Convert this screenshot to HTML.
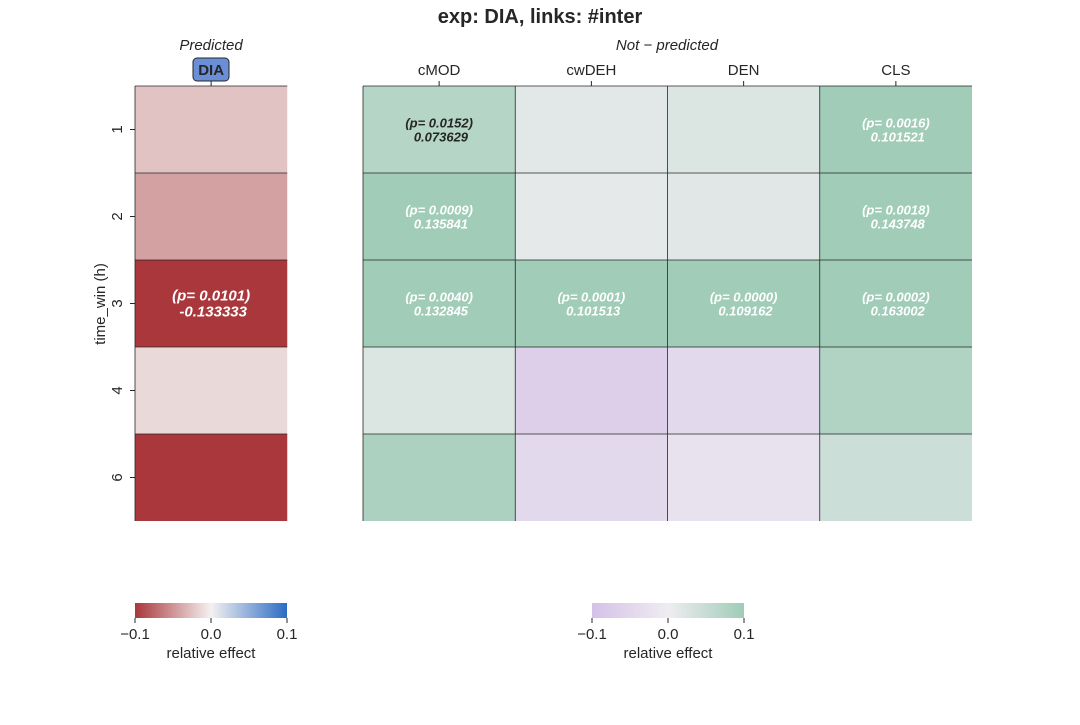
<!DOCTYPE html>
<html><head><meta charset="utf-8"><style>
body{margin:0;background:#fff;font-family:"Liberation Sans",sans-serif}
svg text{font-family:"Liberation Sans",sans-serif}
</style></head><body>
<svg id="c" width="1080" height="720">
<defs>
<linearGradient id="g1"><stop offset="0" stop-color="#a9373b"/><stop offset="0.5" stop-color="#f4f1f1"/><stop offset="1" stop-color="#2b6cc4"/></linearGradient>
<linearGradient id="g2"><stop offset="0" stop-color="#d5c1e8"/><stop offset="0.5" stop-color="#eeedf0"/><stop offset="1" stop-color="#a0ccb8"/></linearGradient>
</defs>
<text x="540" y="23" text-anchor="middle" font-size="20" font-weight="bold" fill="#262626">exp: DIA, links: #inter</text>
<text x="211" y="50" text-anchor="middle" font-size="15" font-style="italic" fill="#262626">Predicted</text>
<text x="667" y="50" text-anchor="middle" font-size="15" font-style="italic" fill="#262626">Not − predicted</text>
<text transform="translate(105,304) rotate(-90)" text-anchor="middle" font-size="15" fill="#262626">time_win (h)</text>
<g id="L"></g><g id="R"></g>
<rect x="135" y="603" width="152" height="15" fill="url(#g1)"/>
<rect x="592" y="603" width="152" height="15" fill="url(#g2)"/>
<g id="CB"></g>
</svg>
<script>
const rows=["1","2","3","4","6"];
const predCols=["DIA"];
const predVals=[-0.025,-0.043,-0.133333,-0.013,-0.12];
const predP=[null,null,"0.0101",null,null];
const npCols=["cMOD","cwDEH","DEN","CLS"];
const npVals=[[0.073629,0.015,0.025,0.101521],[0.135841,0.012,0.018,0.143748],[0.132845,0.101513,0.109162,0.163002],[0.025,-0.07,-0.045,0.08],[0.085,-0.045,-0.025,0.045]];
const npP=[["0.0152",null,null,"0.0016"],["0.0009",null,null,"0.0018"],["0.0040","0.0001","0.0000","0.0002"],[null,null,null,null],[null,null,null,null]];
const cbTicks=["−0.1","0.0","0.1"];
const NS="http://www.w3.org/2000/svg";
function mk(t,a,p){const e=document.createElementNS(NS,t);for(const k in a)e.setAttribute(k,a[k]);p.appendChild(e);return e;}
function hex(h){return[1,3,5].map(i=>parseInt(h.substr(i,2),16));}
function cmap(v,lo,mid,hi){let t=Math.max(-1,Math.min(1,v/0.1));const a=hex(mid),b=hex(t<0?lo:hi);t=Math.abs(t);return"rgb("+a.map((x,i)=>Math.round(x+(b[i]-x)*t)).join(",")+")";}
const gridTop=86,rh=87,cw=152.25;
function yS(i){return gridTop+i*rh;}
function heat(g,x0,cols,vals,ps,lo,mid,hi,big){
 cols.forEach((c,j)=>{const cx=x0+j*cw+cw/2;
  const t=mk("text",{x:cx,y:75,"text-anchor":"middle","font-size":15,fill:"#262626"},g);t.textContent=c;
  
  
  mk("line",{x1:cx,x2:cx,y1:gridTop,y2:gridTop-5,stroke:"#262626"},g);});
 rows.forEach((r,i)=>{cols.forEach((c,j)=>{const v=vals[i][j];
  const re=mk("rect",{x:x0+j*cw,y:yS(i),width:cw,height:rh,fill:cmap(v,lo,mid,hi)},g);
  
  
 });});
 // grid lines (interior + top)
 for(let i=0;i<rows.length;i++)mk("line",{x1:x0,x2:x0+cols.length*cw,y1:yS(i),y2:yS(i),stroke:"#262626","stroke-width":0.8},g);
 for(let j=0;j<cols.length;j++)mk("line",{x1:x0+j*cw,x2:x0+j*cw,y1:gridTop,y2:yS(rows.length),stroke:"#262626","stroke-width":0.8},g);
 rows.forEach((r,i)=>{cols.forEach((c,j)=>{const v=vals[i][j];const p=ps[i][j];
  if(p){const fs=big?15:13;const col=Math.abs(v)>0.08?"#fff":"#262626";
   const tx=mk("text",{x:x0+j*cw+cw/2,y:yS(i)+rh/2-(big?3:2),"text-anchor":"middle","font-size":fs,"font-weight":"bold","font-style":"italic",fill:col},g);
   
   
   const a=mk("tspan",{x:x0+j*cw+cw/2},tx);a.textContent="(p= "+p+")";
   const b=mk("tspan",{x:x0+j*cw+cw/2,dy:big?16:14},tx);b.textContent=" "+v.toFixed(6);}
 });});
}
const L=document.getElementById("L"),R=document.getElementById("R");
heat(L,135,predCols,predVals.map(v=>[v]),predP.map(p=>[p]),"#a9373b","#f4f1f1","#2b6cc4",true);
heat(R,363,npCols,npVals,npP,"#d5c1e8","#eeedf0","#a0ccb8",false);
const bx=mk("rect",{x:193,y:58,width:36,height:23,rx:4,fill:"#6a8fd6",stroke:"#262626","stroke-width":1},L);


const diaLbl=L.querySelectorAll("text")[0];diaLbl.setAttribute("font-weight","bold");L.appendChild(diaLbl);
rows.forEach((r,i)=>{const cy=yS(i)+rh/2;mk("line",{x1:135,x2:130,y1:cy,y2:cy,stroke:"#262626"},L);
 const t=mk("text",{transform:"translate(122,"+cy+") rotate(-90)","text-anchor":"middle","font-size":15,fill:"#262626"},L);t.textContent=r;
 
 });
const CB=document.getElementById("CB");
[135,592].forEach(x0=>{cbTicks.forEach((s,k)=>{const x=x0+k*76;mk("line",{x1:x,x2:x,y1:618,y2:623,stroke:"#262626"},CB);
 const t=mk("text",{x:x,y:639,"text-anchor":"middle","font-size":15,fill:"#262626"},CB);t.textContent=s;
 
 });
 const l=mk("text",{x:x0+76,y:658,"text-anchor":"middle","font-size":15,fill:"#262626"},CB);l.textContent="relative effect";
 
 });
</script>
</body></html>
